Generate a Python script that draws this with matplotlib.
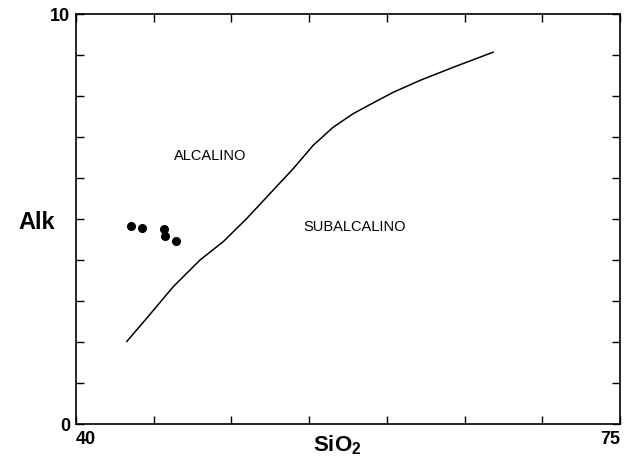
import matplotlib
matplotlib.use('Agg')
import matplotlib.pyplot as plt
from matplotlib.ticker import MultipleLocator

plt.rcParams['font.family'] = ['Liberation Sans', 'DejaVu Sans']
plt.rcParams['mathtext.fontset'] = 'custom'
plt.rcParams['mathtext.rm'] = 'Liberation Sans:bold'
plt.rcParams['mathtext.bf'] = 'Liberation Sans:bold'

# Línea divisoria alcalino / subalcalino
linea_sio2 = [43.26, 44.55, 46.26, 47.98, 49.48, 50.98, 52.48, 53.98, 55.27,
              56.55, 57.84, 58.91, 60.41, 62.13, 64.27, 66.85]
linea_alk = [2.01, 2.58, 3.35, 4.00, 4.45, 5.01, 5.62, 6.23, 6.80,
             7.24, 7.57, 7.79, 8.09, 8.38, 8.70, 9.07]

# Muestras
muestras_sio2 = [43.52, 44.23, 45.66, 45.73, 46.43]
muestras_alk = [4.82, 4.77, 4.75, 4.58, 4.47]

fig = plt.figure(figsize=(6.24, 4.6), dpi=100)
ax = fig.add_axes([0.1218, 0.0761, 0.8718, 0.8913])

ax.plot(linea_sio2, linea_alk, color='black', lw=1.1,
        solid_joinstyle='round', solid_capstyle='round')
ax.plot(muestras_sio2, muestras_alk, 'o', color='black', ms=5.5)

ax.text(48.6, 6.55, "ALCALINO", fontsize=10.5, ha='center', va='center')
ax.text(57.95, 4.84, "SUBALCALINO", fontsize=10.5, ha='center', va='center')

ax.set_xlim(40, 75)
ax.set_ylim(0, 10)
ax.xaxis.set_major_locator(MultipleLocator(5))
ax.yaxis.set_major_locator(MultipleLocator(1))
ax.tick_params(direction='in', length=6, width=1, top=True, right=True,
               labelsize=13, pad=4)

xt = list(range(40, 76, 5))
ax.set_xticks(xt, [str(v) if v in (40, 75) else '' for v in xt], fontweight='bold')
yt = list(range(0, 11))
ax.set_yticks(yt, [str(v) if v in (0, 10) else '' for v in yt], fontweight='bold')
xl = ax.get_xticklabels()
xl[0].set_ha('left')
xl[-1].set_ha('right')

for s in ax.spines.values():
    s.set_linewidth(1.2)

ax.set_xlabel("SiO$_2$", fontsize=16, fontweight='bold')
ax.xaxis.set_label_coords(0.48, -0.02)
ax.xaxis.label.set_va('top')
ax.set_ylabel("Alk", fontsize=17, fontweight='bold', rotation=0, va='center')
ax.yaxis.set_label_coords(-0.073, 0.495)

fig.savefig("out.png", dpi=100)
